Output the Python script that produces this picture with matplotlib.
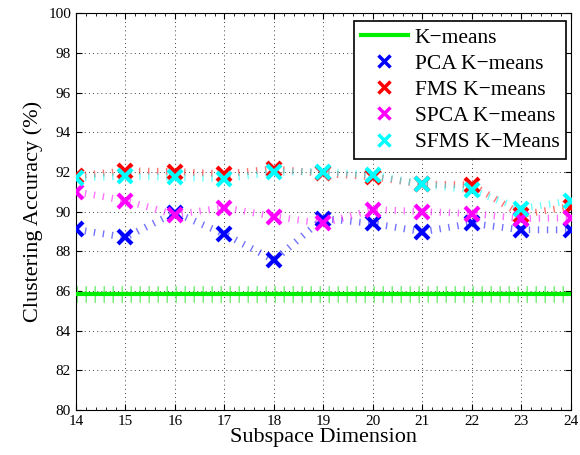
import matplotlib
matplotlib.use("Agg")
import matplotlib.pyplot as plt
from matplotlib.lines import Line2D
from matplotlib.ticker import MultipleLocator

plt.rcParams['font.family'] = ['Liberation Serif', 'DejaVu Serif']

dims = [14, 15, 16, 17, 18, 19, 20, 21, 22, 23, 24]
kmeans = 85.87
pca = [89.1, 88.7, 89.95, 88.87, 87.55, 89.65, 89.4, 88.98, 89.4, 89.08, 89.08]
fms = [91.8, 92.05, 92.02, 91.9, 92.15, 91.92, 91.75, 91.38, 91.35, 89.85, 90.25]
spca = [91.0, 90.55, 89.85, 90.2, 89.75, 89.4, 90.1, 90.0, 89.9, 89.65, 89.68]
sfms = [91.7, 91.78, 91.72, 91.65, 91.98, 92.02, 91.85, 91.38, 91.08, 90.15, 90.55]

series = [
    ("PCA K\u2212means", pca, "blue"),
    ("FMS K\u2212means", fms, "red"),
    ("SPCA K\u2212means", spca, "magenta"),
    ("SFMS K\u2212Means", sfms, "cyan"),
]

fig = plt.figure(figsize=(5.8, 4.55), dpi=100)
ax = fig.add_axes([0.131, 0.099, 0.853, 0.872])

# k-means baseline: thick dotted band with a solid line over it
ax.plot([dims[0], dims[-1]], [kmeans, kmeans], color="#7aee7a", lw=12,
        linestyle=(0, (0.09, 0.45)), dash_capstyle="butt", zorder=2)
ax.plot([dims[0], dims[-1]], [kmeans, kmeans], color="#00ee00", lw=3, zorder=3)

for name, vals, col in series:
    ax.plot(dims, vals, linestyle=(0, (0.2, 1.1)), dash_capstyle="butt",
            color=col, lw=5, alpha=0.55, zorder=3)
    ax.plot(dims, vals, linestyle="none", marker="x", color=col, ms=10, mew=3, zorder=4)

ax.set_xlim(14, 24)
ax.set_ylim(80, 100)
ax.set_xticks(dims)
ax.set_yticks(range(80, 101, 2))
ax.xaxis.set_minor_locator(MultipleLocator(0.2))
ax.tick_params(which="both", direction="in", top=True, right=True, labelsize=11)
ax.tick_params(which="major", length=4)
ax.tick_params(which="minor", length=2)
ax.grid(True, which="major", color="black", linestyle=(0, (1, 4)), lw=0.6)

ax.set_xlabel("Subspace Dimension", fontsize=16, labelpad=0)
ax.set_ylabel("Clustering Accuracy (%)", fontsize=16, labelpad=4)

handles = [Line2D([], [], color="#00ee00", lw=3)]
labels = ["K\u2212means"]
for name, vals, col in series:
    handles.append(Line2D([], [], linestyle="none", marker="x", color=col, ms=8, mew=2.5))
    labels.append(name)
leg = ax.legend(handles, labels, loc="upper right", bbox_to_anchor=(0.99, 0.98),
                borderaxespad=0, fontsize=15.5, fancybox=False,
                edgecolor="black", framealpha=1, handlelength=2.2,
                handletextpad=0.3, labelspacing=0.28, borderpad=0.3)
leg.get_frame().set_linewidth(1.2)

fig.savefig("out.png", dpi=100)
